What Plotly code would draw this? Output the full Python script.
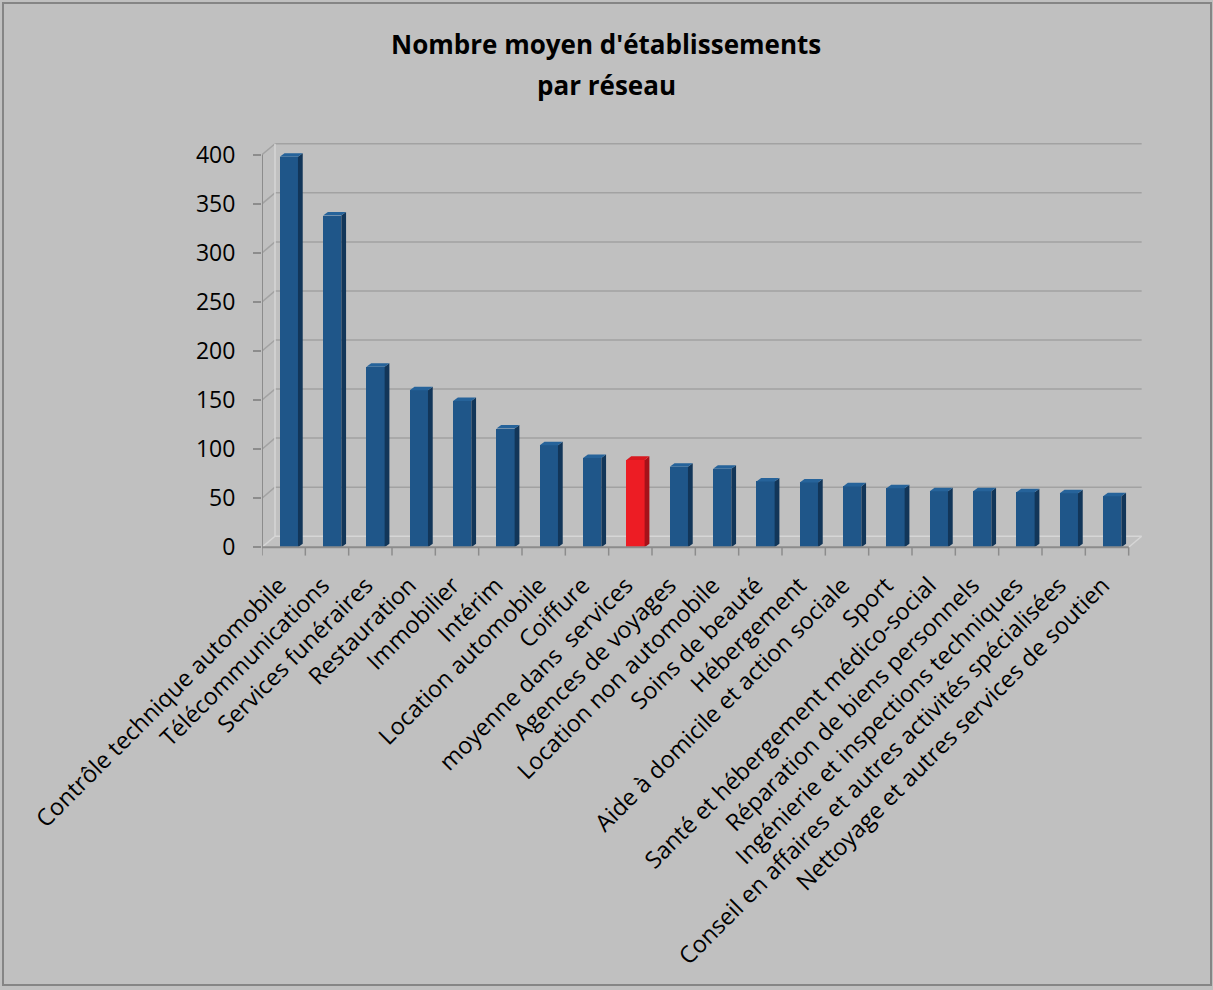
import plotly.graph_objects as go

# Average number of establishments per network, by service sector
categories = [
    "Contrôle technique automobile",
    "Télécommunications",
    "Services funéraires",
    "Restauration",
    "Immobilier",
    "Intérim",
    "Location automobile",
    "Coiffure",
    "moyenne dans  services",
    "Agences de voyages",
    "Location non automobile",
    "Soins de beauté",
    "Hébergement",
    "Aide à domicile et action sociale",
    "Sport",
    "Santé et hébergement médico-social",
    "Réparation de biens personnels",
    "Ingénierie et inspections techniques",
    "Conseil en affaires et autres activités spécialisées",
    "Nettoyage et autres services de soutien",
]
values = [398, 338, 184, 160, 149, 121, 104, 91, 89, 82, 80, 67, 66, 62, 60, 57, 57, 56, 55, 52]
highlight = "moyenne dans  services"

y_ticks = [0, 50, 100, 150, 200, 250, 300, 350, 400]
title_lines = ["Nombre moyen d'établissements", "par réseau"]

# colours
BG = "#c0c0c0"
BLUE_FRONT, BLUE_SIDE, BLUE_TOP = "#1f5689", "#123659", "#26639a"
RED_FRONT, RED_SIDE, RED_TOP = "#ed1c24", "#a5121a", "#d8181f"
GRID = "#a2a2a2"
EDGE_LIGHT = "#d6d6d6"
AXIS = "#8c8c8c"

# geometry (in axis units)
X_MIN, X_MAX = -0.5, 19.9
Y_MIN, Y_MAX = -12, 413
DEPTH_X, DEPTH_Y = 0.30, 11.2        # back wall offset
BAR_SHIFT, BAR_W = 0.12, 0.42        # bar front face
BAR_DX, BAR_DY = 0.11, 3.6           # bar depth
LABEL_SHIFT = -0.22                  # category label anchor relative to the bar

n = len(categories)
xs = [i + BAR_SHIFT for i in range(n)]
label_x = [i + BAR_SHIFT + LABEL_SHIFT for i in range(n)]
front_cols = [RED_FRONT if c == highlight else BLUE_FRONT for c in categories]
side_cols = [RED_SIDE if c == highlight else BLUE_SIDE for c in categories]
top_cols = [RED_TOP if c == highlight else BLUE_TOP for c in categories]

fig = go.Figure()
fig.add_trace(go.Bar(
    x=xs, y=values, width=BAR_W,
    marker=dict(color=front_cols, line=dict(width=0)),
    hovertext=categories, showlegend=False,
))

shapes = []
# back wall gridlines with their diagonal run to the front axis
for v in y_ticks:
    col = EDGE_LIGHT if v == 0 else GRID
    shapes.append(dict(type="line", xref="x", yref="y",
                       x0=X_MIN, y0=v, x1=X_MIN + DEPTH_X, y1=v + DEPTH_Y,
                       line=dict(color=col, width=1.5), layer="below"))
    shapes.append(dict(type="line", xref="x", yref="y",
                       x0=X_MIN + DEPTH_X, y0=v + DEPTH_Y, x1=n - 0.5 + DEPTH_X, y1=v + DEPTH_Y,
                       line=dict(color=col, width=1.5), layer="below"))
# side wall back edge
shapes.append(dict(type="line", xref="x", yref="y",
                   x0=X_MIN + DEPTH_X, y0=DEPTH_Y, x1=X_MIN + DEPTH_X, y1=y_ticks[-1] + DEPTH_Y,
                   line=dict(color=EDGE_LIGHT, width=1.5), layer="below"))
# floor right edge
shapes.append(dict(type="line", xref="x", yref="y",
                   x0=n - 0.5, y0=0, x1=n - 0.5 + DEPTH_X, y1=DEPTH_Y,
                   line=dict(color=EDGE_LIGHT, width=1.5), layer="below"))

# bar side and top faces
for x, v, sc, tc in zip(xs, values, side_cols, top_cols):
    x0, x1 = x - BAR_W / 2, x + BAR_W / 2
    shapes.append(dict(type="path", xref="x", yref="y",
                       path=f"M {x1},0 L {x1 + BAR_DX},{BAR_DY} L {x1 + BAR_DX},{v + BAR_DY} L {x1},{v} Z",
                       fillcolor=sc, line=dict(width=0)))
    shapes.append(dict(type="path", xref="x", yref="y",
                       path=f"M {x0},{v} L {x0 + BAR_DX},{v + BAR_DY} L {x1 + BAR_DX},{v + BAR_DY} L {x1},{v} Z",
                       fillcolor=tc, line=dict(width=0)))

# front axes
shapes.append(dict(type="line", xref="x", yref="y", x0=X_MIN, y0=0, x1=X_MIN, y1=y_ticks[-1],
                   line=dict(color=AXIS, width=2)))
shapes.append(dict(type="line", xref="x", yref="y", x0=X_MIN, y0=0, x1=n - 0.5, y1=0,
                   line=dict(color=AXIS, width=2)))
for k in range(n + 1):
    shapes.append(dict(type="line", xref="x", yref="y", x0=k - 0.5, y0=0, x1=k - 0.5, y1=-8.5,
                       line=dict(color=AXIS, width=1.5)))

# outer chart border
L, T, R, B = 262, 142, 67, 431
W, H = 1213 - L - R, 990 - T - B
def px(xp):
    return (xp - L) / W
def py(yp):
    return 1 - (yp - T) / H
shapes.append(dict(type="rect", xref="paper", yref="paper",
                   x0=px(3), y0=py(3), x1=px(1211), y1=py(985),
                   line=dict(color="#858585", width=2), fillcolor="rgba(0,0,0,0)"))

# two-line bold title
annotations = []
for text, yc in zip(title_lines, [44, 85]):
    annotations.append(dict(text=f"<b>{text}</b>", x=px(606), xref="paper", xanchor="center",
                            y=py(yc), yref="paper", yanchor="middle", showarrow=False,
                            font=dict(family="Open Sans", size=26, color="black")))

fig.update_layout(
    width=1213, height=990,
    margin=dict(l=L, r=R, t=T, b=B, autoexpand=False),
    paper_bgcolor=BG, plot_bgcolor=BG,
    font=dict(family="Open Sans", color="black"),
    xaxis=dict(range=[X_MIN, X_MAX], tickmode="array", tickvals=label_x, ticktext=categories,
               tickangle=-45, ticks="", showgrid=False, zeroline=False, showline=False,
               ticklabelstandoff=7,
               tickfont=dict(size=23.5, family="Open Sans", color="black"), fixedrange=True),
    yaxis=dict(range=[Y_MIN, Y_MAX], tickmode="array", tickvals=y_ticks,
               ticks="outside", ticklen=8, tickwidth=1.5, tickcolor=AXIS,
               showgrid=False, zeroline=False, showline=False,
               ticklabelstandoff=13,
               tickfont=dict(size=23, family="Open Sans", color="black"), fixedrange=True),
    shapes=shapes,
    annotations=annotations,
    bargap=0,
)

fig.write_html("out.html")
